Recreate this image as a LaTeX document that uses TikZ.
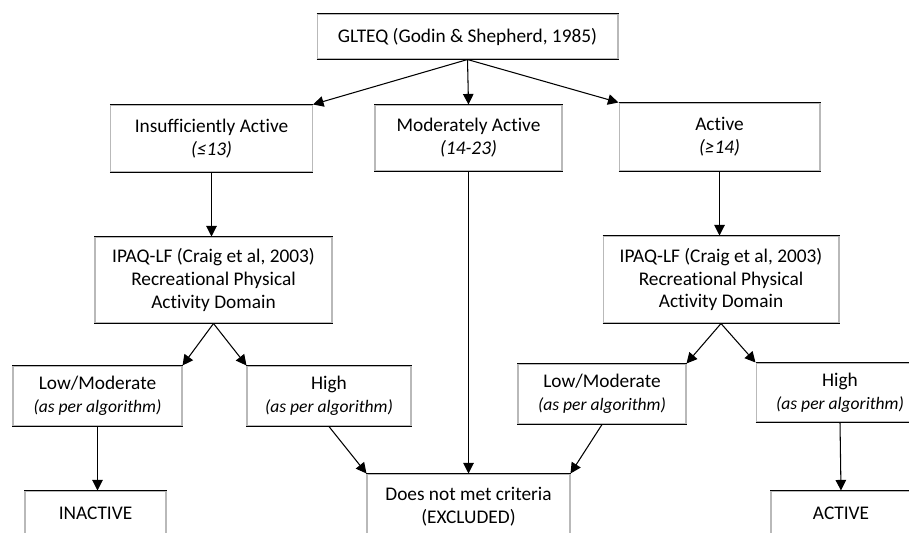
\documentclass[tikz,border=0pt]{standalone}
\usepackage{fontspec}
\setmainfont{Carlito}[RawFeature={-liga;-clig;-calt;-dlig}]
\usetikzlibrary{arrows.meta}

\begin{document}
\begin{tikzpicture}[x=0.02cm,y=-0.02cm,>={Triangle[length=6pt,width=6pt]}]
		\tikzstyle{box}=[draw=gray!55, line width=0.6pt, align=center,
							font=\fontsize{11}{13}\selectfont, inner sep=2pt,
							append after command={(\tikzlastnode.north west) edge[black,line width=0.6pt] (\tikzlastnode.north east)
								(\tikzlastnode.south west) edge[black,line width=0.6pt] (\tikzlastnode.south east)}]
		\tikzstyle{link}=[->, line width=0.6pt]
		\newcommand{\algo}{\textit{\fontsize{10}{13}\selectfont(as per algorithm)}}

		\useasboundingbox (0,0) rectangle (909,532);
		\clip (0,0) rectangle (909,532);

		% GLTEQ
		\node[box, minimum width=6.02cm, minimum height=0.9cm] (glteq) at (467.5,36.5) {GLTEQ (Godin \& Shepherd, 1985)};

		% groups
		\node[box, minimum width=4.04cm, minimum height=1.34cm] (insuf) at (211.5,138.5) {Insufficiently Active\\\textit{(≤13)}};
		\node[box, minimum width=3.74cm, minimum height=1.32cm] (moder) at (468.5,138) {Moderately Active\\\textit{(14-23)}};
		\node[box, minimum width=4.02cm, minimum height=1.36cm] (activ) at (719.5,137) {Active\\\textit{(≥14)}};

		% IPAQ
		\node[box, minimum width=4.74cm, minimum height=1.72cm] (ipaqL) at (213.5,280) {IPAQ-LF (Craig et al, 2003)\\Recreational Physical\\Activity Domain};
		\node[box, minimum width=4.72cm, minimum height=1.74cm] (ipaqR) at (721,279.5) {IPAQ-LF (Craig et al, 2003)\\Recreational Physical\\Activity Domain};

		% levels
		\node[box, minimum width=3.38cm, minimum height=1.2cm] (lowL) at (97.5,396) {Low/Moderate\\\algo};
		\node[box, minimum width=3.28cm, minimum height=1.2cm] (highL) at (329,396) {High\\\algo};
		\node[box, minimum width=3.36cm, minimum height=1.2cm] (lowR) at (602,394) {Low/Moderate\\\algo};
		\node[box, minimum width=3.36cm, minimum height=1.18cm] (highR) at (840,392.5) {High\\\algo};

		% outcomes
		\node[box, minimum width=2.82cm, minimum height=0.9cm] (inact) at (95.5,513.5) {INACTIVE};
		\node[box, minimum width=4.06cm, minimum height=1.3cm] (excl) at (468.5,506.5) {Does not met criteria\\(EXCLUDED)};
		\node[box, minimum width=2.8cm, minimum height=0.88cm] (act) at (841,513) {ACTIVE};

		% links
		\foreach \from/\to in {glteq.south/insuf.north east, glteq.south/moder.north, glteq.south/activ.north west,
				moder.south/excl.north,
				ipaqL.south/lowL.north east, ipaqL.south/highL.north west,
				ipaqR.south/lowR.north east, ipaqR.south/highR.north west,
				highL.south/excl.north west, lowR.south/excl.north east,
				highR.south/act.north}
			\draw[link] (\from) -- (\to);
		\draw[link] (insuf.south) -- (insuf.south |- ipaqL.north);
		\draw[link] (activ.south) -- (activ.south |- ipaqR.north);
		\draw[link] (lowL.south) -- (lowL.south |- inact.north);
\end{tikzpicture}
\end{document}
